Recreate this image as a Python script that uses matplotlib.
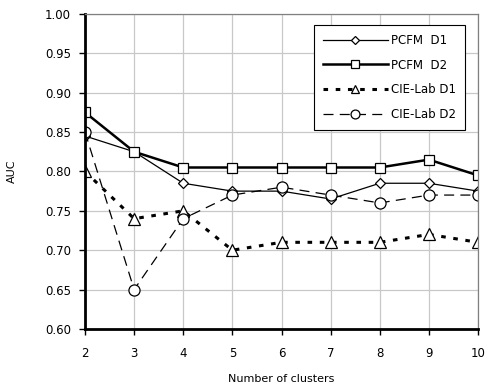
import matplotlib
matplotlib.use("Agg")
import matplotlib.pyplot as plt

clusters = [2, 3, 4, 5, 6, 7, 8, 9, 10]
pcfm_d1 = [0.845, 0.825, 0.785, 0.775, 0.775, 0.765, 0.785, 0.785, 0.775]
pcfm_d2 = [0.875, 0.825, 0.805, 0.805, 0.805, 0.805, 0.805, 0.815, 0.795]
cie_d1 = [0.80, 0.74, 0.75, 0.70, 0.71, 0.71, 0.71, 0.72, 0.71]
cie_d2 = [0.85, 0.65, 0.74, 0.77, 0.78, 0.77, 0.76, 0.77, 0.77]
yticks = [0.60, 0.65, 0.70, 0.75, 0.80, 0.85, 0.90, 0.95, 1.00]


def main():
    plt.rcParams["font.family"] = "DejaVu Sans"
    fig = plt.figure(figsize=(4.9, 3.87), dpi=100)
    ax = fig.add_axes([0.1735, 0.150, 0.802, 0.814])

    mk = dict(markerfacecolor="white", markeredgecolor="black", markeredgewidth=0.9)
    ax.plot(clusters, pcfm_d1, color="black", lw=0.9, marker="D", markersize=5.5, label="PCFM  D1", **mk)
    ax.plot(clusters, pcfm_d2, color="black", lw=1.8, marker="s", markersize=7, label="PCFM  D2", **mk)
    ax.plot(clusters, cie_d1, color="black", lw=2.2, linestyle=(0, (1.5, 2.5)), marker="^", markersize=8,
            label="CIE-Lab D1", **mk)
    ax.plot(clusters, cie_d2, color="black", lw=0.9, linestyle=(0, (8, 5)), marker="o", markersize=8,
            label="CIE-Lab D2", **mk)

    ax.set_xlim(2, 10)
    ax.set_ylim(0.60, 1.00)
    ax.set_xticks(clusters)
    ax.set_yticks(yticks)
    ax.set_yticklabels(["%.2f" % v for v in yticks])
    ax.grid(True, color="#c8c8c8", lw=0.9)
    ax.set_axisbelow(True)
    for s in ["top", "right"]:
        ax.spines[s].set_color("#808080")
        ax.spines[s].set_linewidth(0.9)
    ax.spines["left"].set_linewidth(2)
    ax.spines["bottom"].set_linewidth(2)
    ax.tick_params(labelsize=8.5, length=4, width=1, direction="out")
    ax.tick_params(axis="x", pad=9)
    ax.tick_params(axis="y", pad=6)
    ax.set_xlabel("Number of clusters", fontsize=8, labelpad=10)
    ax.set_ylabel("AUC", fontsize=8, labelpad=20)

    leg = ax.legend(loc="upper right", bbox_to_anchor=(0.967, 0.965), borderaxespad=0,
                    fancybox=False, edgecolor="black", framealpha=1, fontsize=8.5,
                    handlelength=5.5, handletextpad=0.3, labelspacing=1.0, borderpad=0.75,
                    markerscale=0.8)
    leg.get_frame().set_linewidth(0.8)

    fig.savefig("out.png", dpi=100)


if __name__ == '__main__':
    main()
